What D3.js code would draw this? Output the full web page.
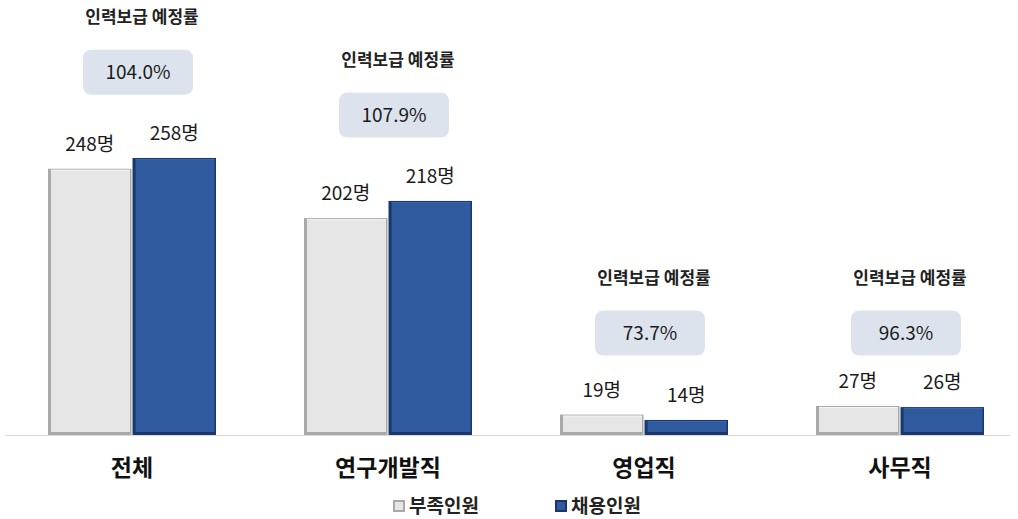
<!DOCTYPE html>
<html><head><meta charset="utf-8">
<script src="https://cdn.jsdelivr.net/npm/d3@7"></script>
<style>
html,body{margin:0;padding:0;background:#fff;}
svg{display:block;font-family:"Noto Sans CJK KR","Noto Sans",sans-serif;}
</style></head>
<body><svg id="c" width="1018" height="519"></svg>
<script>
const categories = ["전체", "연구개발직", "영업직", "사무직"];
const seriesNames = ["부족인원", "채용인원"];
const shortage = [248, 202, 19, 27];
const hired = [258, 218, 14, 26];
const rates = ["104.0%", "107.9%", "73.7%", "96.3%"];
const rateTitle = "인력보급 예정률";
const unit = "명";

const svg = d3.select("#c");
const baseY = 435;

const x0 = d3.scaleBand().domain(categories).range([4, 1028]).paddingInner(0).paddingOuter(0);
const x1 = d3.scaleBand().domain(seriesNames).range([-84, 84]).paddingInner(0.012);
const y = d3.scaleLinear().domain([0, 258]).range([baseY, 158]);

const colors = {
  "부족인원": {fill: "#e6e6e6", dark: "#a9a9a9", light: "#f4f4f4"},
  "채용인원": {fill: "#2f5a9e", dark: "#1b366a", light: "#3c67ad"}
};

svg.append("line").attr("x1", 5).attr("x2", 1010).attr("y1", baseY + 0.5).attr("y2", baseY + 0.5)
  .attr("stroke", "#d9d9d9").attr("stroke-width", 1);

const data = categories.map((c, i) => ({cat: c, vals: [shortage[i], hired[i]], rate: rates[i]}));

const g = svg.selectAll("g.grp").data(data).join("g").attr("class", "grp")
  .attr("transform", d => `translate(${x0(d.cat) + x0.bandwidth() / 2},0)`);

g.each(function(d) {
  const gg = d3.select(this);
  seriesNames.forEach((s, j) => {
    const v = d.vals[j];
    const bx = x1(s), bw = x1.bandwidth();
    const top = y(v), h = baseY - top;
    const col = colors[s];
    gg.append("rect").attr("x", bx).attr("y", top).attr("width", bw).attr("height", h).attr("fill", col.dark);
    const inset = Math.min(3, h / 3);
    gg.append("rect").attr("x", bx + inset).attr("y", top + 1).attr("width", bw - inset - 1.5).attr("height", Math.max(0, h - inset - 1))
      .attr("fill", col.fill);
    gg.append("rect").attr("x", bx + inset).attr("y", top + 1).attr("width", bw - inset - 1.5).attr("height", 1)
      .attr("fill", col.light);
    gg.append("text").attr("x", bx + bw / 2).attr("y", top - 18)
      .attr("text-anchor", "middle").attr("font-size", 19).attr("fill", "#1a1a1a")
      .text(v + unit);
  });
  const maxV = d3.max(d.vals);
  const boxVal = maxV >= 100 ? maxV + 59 : 74;
  const boxBottom = y(boxVal);
  const bw = 110, bh = 45, cx = 6;
  gg.append("rect").attr("x", cx - bw / 2).attr("y", boxBottom - bh).attr("width", bw).attr("height", bh)
    .attr("rx", 8).attr("fill", "#dde3ec");
  gg.append("text").attr("x", cx).attr("y", boxBottom - bh / 2 + 7)
    .attr("text-anchor", "middle").attr("font-size", 19).attr("fill", "#1a1a1a").text(d.rate);
  gg.append("text").attr("x", cx + 4).attr("y", boxBottom - bh - 27)
    .attr("text-anchor", "middle").attr("font-size", 17).attr("font-weight", "bold").attr("fill", "#222").text(rateTitle);
  gg.append("text").attr("x", 0).attr("y", 476)
    .attr("text-anchor", "middle").attr("font-size", 23).attr("font-weight", "bold").attr("fill", "#111").text(d.cat);
});

const legX = [393, 555];
const lg = svg.selectAll("g.leg").data(seriesNames).join("g").attr("class", "leg")
  .attr("transform", (d, i) => `translate(${legX[i]},506)`);
lg.append("rect").attr("x", 0).attr("y", -6).attr("width", 12).attr("height", 12)
  .attr("fill", d => colors[d].dark);
lg.append("rect").attr("x", 2).attr("y", -4).attr("width", 8).attr("height", 8)
  .attr("fill", d => colors[d].fill);
lg.append("text").attr("x", 16).attr("y", 7).attr("font-size", 19).attr("font-weight", "bold").attr("fill", "#222")
  .text(d => d);
</script></body></html>
